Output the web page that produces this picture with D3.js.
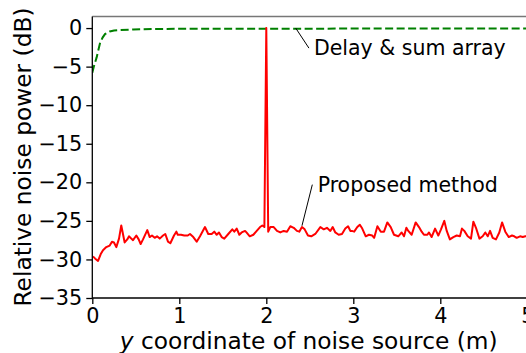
<!DOCTYPE html>
<html>
<head>
<meta charset="utf-8">
<script src="https://cdn.jsdelivr.net/npm/d3@7"></script>
<style>
body { margin: 0; background: #fff; }
text { font-family: "DejaVu Sans", sans-serif; fill: #000; }
</style>
</head>
<body>
<svg id="chart" width="526" height="353"></svg>
<script>
// values
var greenX = [0, 0.02, 0.05, 0.09, 0.12, 0.146, 0.2, 0.25, 0.318, 0.47, 0.7, 1, 2, 3, 4, 5];
var greenY = [-5.8, -4.9, -3.8, -1.9, -1.2, -0.78, -0.44, -0.32, -0.26, -0.18, -0.12, -0.1, -0.08, -0.07, -0.06, -0.06];

var redX = [0.008, 0.034, 0.066, 0.097, 0.123, 0.161, 0.2, 0.226, 0.249, 0.276, 0.307, 0.333, 0.372, 0.402, 0.422,
	0.448, 0.468, 0.506, 0.533, 0.556, 0.583, 0.632, 0.66, 0.686, 0.717, 0.744, 0.775, 0.813, 0.839, 0.87, 0.897,
	0.939, 0.966, 0.982, 1.02, 1.057, 1.097, 1.123, 1.161, 1.2, 1.238, 1.295, 1.333, 1.372, 1.402, 1.43, 1.456,
	1.487, 1.517, 1.563, 1.609, 1.632, 1.66, 1.69, 1.717, 1.756, 1.772, 1.81, 1.851, 1.89, 1.928, 1.954, 1.978,
	2.0, 2.022, 2.046, 2.085, 2.123, 2.161, 2.2, 2.238, 2.276, 2.315, 2.352, 2.379, 2.41, 2.441, 2.479, 2.517,
	2.563, 2.621, 2.66, 2.697, 2.736, 2.763, 2.793, 2.832, 2.87, 2.908, 2.94, 2.966, 2.984, 3.01, 3.046, 3.075,
	3.103, 3.143, 3.18, 3.218, 3.24, 3.277, 3.316, 3.353, 3.391, 3.43, 3.468, 3.517, 3.556, 3.583, 3.61, 3.632,
	3.671, 3.717, 3.755, 3.786, 3.812, 3.851, 3.87, 3.9, 3.94, 3.977, 4.008, 4.046, 4.074, 4.11, 4.15, 4.189,
	4.226, 4.249, 4.276, 4.315, 4.353, 4.38, 4.41, 4.45, 4.487, 4.517, 4.545, 4.572, 4.602, 4.64, 4.678, 4.71,
	4.747, 4.786, 4.824, 4.85, 4.878, 4.917, 4.948, 4.978, 5];
var redY = [-29.6, -29.9, -30.2, -29.3, -28.8, -28.4, -28.2, -27.7, -27.8, -28.4, -27.3, -25.6, -27.8, -27.4, -27.0,
	-27.3, -27.5, -26.9, -27.4, -28.0, -27.4, -26.2, -27.1, -26.9, -27.2, -27.0, -27.3, -26.9, -26.7, -27.7, -27.9,
	-26.9, -26.4, -26.8, -26.8, -26.9, -26.9, -26.7, -27.1, -27.7, -27.0, -25.8, -26.7, -26.7, -26.4, -26.8, -26.5,
	-27.1, -27.3, -26.7, -26.1, -26.4, -26.0, -26.8, -26.5, -26.3, -26.5, -27.0, -26.8, -26.3, -25.8, -25.6, -25.8,
	0, -26.4, -25.8, -25.8, -26.3, -26.5, -26.3, -26.4, -25.7, -25.9, -26.3, -26.4, -25.8, -26.1, -26.9, -27.0,
	-26.7, -25.8, -26.1, -25.9, -26.3, -25.8, -26.5, -26.8, -26.7, -26.0, -25.7, -26.3, -26.3, -26.4, -25.8, -25.5,
	-26.0, -27.0, -26.8, -26.9, -27.2, -25.7, -26.4, -26.4, -25.2, -25.8, -26.8, -27.0, -26.5, -27.0, -25.9, -26.3,
	-26.8, -25.2, -25.8, -26.4, -26.8, -26.8, -26.5, -27.1, -26.0, -26.9, -26.1, -25.0, -26.3, -27.4, -27.1, -26.9,
	-27.0, -26.0, -26.3, -27.0, -27.3, -25.1, -25.9, -27.3, -27.0, -26.5, -27.0, -26.3, -27.2, -27.4, -26.5, -25.2,
	-26.4, -27.1, -26.9, -27.0, -27.2, -27.0, -27.1, -27.0, -27.0];

var xTicks = [0, 1, 2, 3, 4, 5];
var yTicks = [-35, -30, -25, -20, -15, -10, -5, 0];

var svg = d3.select('#chart');

var x = d3.scaleLinear().domain([0, 5]).range([92.3, 527.3]);
var y = d3.scaleLinear().domain([-35, 1.5]).range([298, 16.5]);

svg.append('clipPath')
	.attr('id', 'plot')
	.append('rect')
	.attr('x', 92.3)
	.attr('y', 16.5)
	.attr('width', 440)
	.attr('height', 281.5);

var line = d3.line()
	.x(function (d) { return x(d[0]); })
	.y(function (d) { return y(d[1]); });

var plot = svg.append('g').attr('clip-path', 'url(#plot)');

plot.append('path')
	.datum(d3.zip(greenX, greenY))
	.attr('d', line)
	.attr('fill', 'none')
	.attr('stroke', '#008000')
	.attr('stroke-width', 2)
	.attr('stroke-dasharray', '8,3.5');

plot.append('path')
	.datum(d3.zip(redX, redY))
	.attr('d', line)
	.attr('fill', 'none')
	.attr('stroke', '#ff0000')
	.attr('stroke-width', 2)
	.attr('stroke-linejoin', 'round');

// top spine
svg.append('line')
	.attr('x1', 92.3).attr('x2', 526)
	.attr('y1', 16.5).attr('y2', 16.5)
	.attr('stroke', '#777')
	.attr('stroke-width', 1.3);

var xAxis = svg.append('g')
	.attr('transform', 'translate(0,298)')
	.call(d3.axisBottom(x).tickValues(xTicks).tickSize(6).tickPadding(4).tickFormat(d3.format('d')));

var yAxis = svg.append('g')
	.attr('transform', 'translate(92.3,0)')
	.call(d3.axisLeft(y).tickValues(yTicks).tickSize(6).tickPadding(4).tickFormat(d3.format('d')));

[xAxis, yAxis].forEach(function (g) {
	g.attr('font-size', null).attr('font-family', null);
	g.select('.domain').attr('stroke', '#000').attr('stroke-width', 1.3);
	g.selectAll('.tick line').attr('stroke', '#000').attr('stroke-width', 1.3);
	g.selectAll('.tick text').style('font-size', '20.8px');
});
xAxis.select('.domain').attr('d', 'M92.3,0H526');
yAxis.select('.domain').attr('d', 'M0,16.5V298');

// axis labels
var xl = svg.append('text')
	.attr('x', 308.7)
	.attr('y', 349)
	.attr('text-anchor', 'middle')
	.style('font-size', '23.3px');
xl.append('tspan').style('font-style', 'italic').text('y');
xl.append('tspan').text(' coordinate of noise source (m)');

svg.append('text')
	.attr('transform', 'translate(22,157) rotate(-90)')
	.attr('text-anchor', 'middle')
	.attr('dominant-baseline', 'central')
	.style('font-size', '23.3px')
	.text('Relative noise power (dB)');

// annotations
var notes = [
	{ text: 'Delay & sum array', from: [2.338, 0], to: [2.49, -2.6], at: [2.548, -2.58] },
	{ text: 'Proposed method', from: [2.41, -25.63], to: [2.529, -20.3], at: [2.59, -20.3] }
];

notes.forEach(function (n) {
	svg.append('line')
		.attr('x1', x(n.from[0])).attr('y1', y(n.from[1]))
		.attr('x2', x(n.to[0])).attr('y2', y(n.to[1]))
		.attr('stroke', '#000')
		.attr('stroke-width', 1);
	svg.append('text')
		.attr('x', x(n.at[0]))
		.attr('y', y(n.at[1]))
		.attr('dominant-baseline', 'central')
		.style('font-size', '20.5px')
		.text(n.text);
});
</script>
</body>
</html>
